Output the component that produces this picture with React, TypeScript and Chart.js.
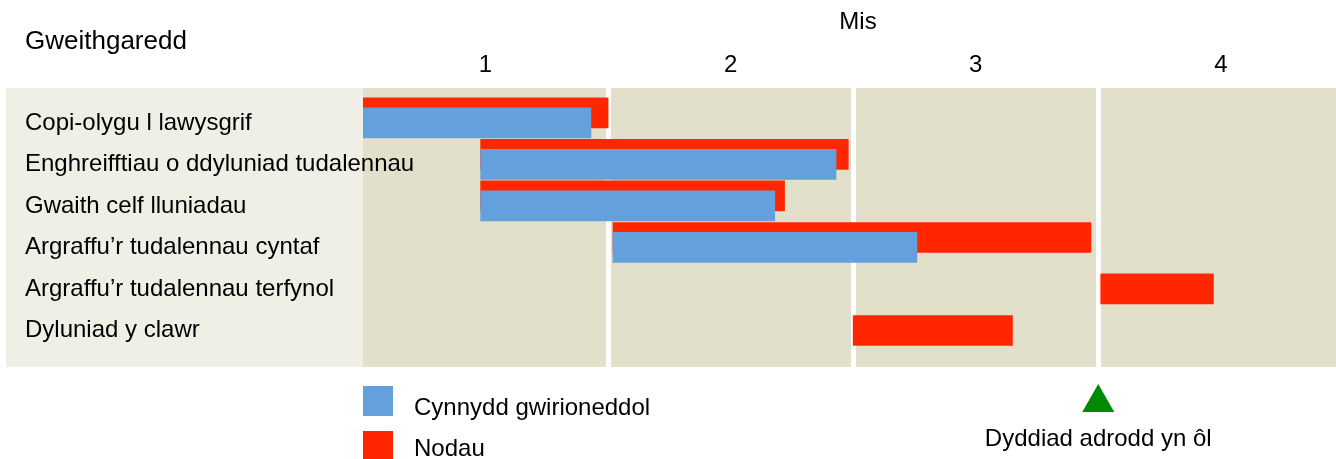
import React, { useEffect, useRef } from 'react';
import { Chart, registerables } from 'chart.js';

Chart.register(...registerables);

// ---------- data ----------
const ACTIVITIES = [
  'Copi-olygu l lawysgrif',
  'Enghreifftiau o ddyluniad tudalennau',
  'Gwaith celf lluniadau',
  'Argraffu’r tudalennau cyntaf',
  'Argraffu’r tudalennau terfynol',
  'Dyluniad y clawr',
];
const MONTH_LABELS = ['1', '2', '3', '4'];
// targets (Nodau), in months from start
const TARGET_START = [0, 0.48, 0.48, 1.02, 3.01, 2.0];
const TARGET_END = [1.0, 1.98, 1.72, 2.97, 3.47, 2.65];
// actual progress (Cynnydd gwirioneddol)
const ACTUAL_START: (number | null)[] = [0, 0.48, 0.48, 1.02, null, null];
const ACTUAL_END: (number | null)[] = [0.93, 1.93, 1.68, 2.26, null, null];
const REPORT_DATE = 3;

const HEADER = 'Gweithgaredd';
const AXIS_TITLE = 'Mis';
const LEGEND_ACTUAL = 'Cynnydd gwirioneddol';
const LEGEND_TARGET = 'Nodau';
const REPORT_LABEL = 'Dyddiad adrodd yn ôl';

// ---------- style ----------
const FONT = '"Liberation Sans", Arial, Helvetica, sans-serif';
const BLUE = '#63a0dc';
const RED = '#ff2600';
const GREEN = '#008a00';
const PANEL = '#f0efe6';
const AREA = '#e2dfcb';
const TARGET_SHIFT = 0.24; // target bar drawn slightly above the actual bar

const actualData = ACTUAL_START.map((s, i) =>
  s === null || ACTUAL_END[i] === null ? null : { x: [s, ACTUAL_END[i] as number], y: i }
).filter((d) => d !== null);

const targetData = TARGET_START.map((s, i) => ({
  x: [s, TARGET_END[i]],
  y: ACTUAL_START[i] === null ? i : i - TARGET_SHIFT,
}));

const ganttPlugin = {
  id: 'ganttDecor',
  beforeDraw(chart: any) {
    const { ctx, chartArea: a } = chart;
    ctx.save();
    ctx.fillStyle = PANEL;
    ctx.fillRect(6, a.top, a.left - 6, a.bottom - a.top);
    ctx.fillStyle = AREA;
    ctx.fillRect(a.left, a.top, a.right - a.left, a.bottom - a.top);
    ctx.restore();
  },
  afterDraw(chart: any) {
    const { ctx, chartArea: a } = chart;
    const xs = chart.scales.x;
    ctx.save();
    ctx.fillStyle = '#000';
    ctx.textBaseline = 'alphabetic';

    ctx.font = `26px ${FONT}`;
    ctx.textAlign = 'left';
    ctx.fillText(HEADER, 25, 49);

    ctx.font = `24px ${FONT}`;
    ctx.textAlign = 'center';
    ctx.fillText(AXIS_TITLE, 858, 29);

    // legend
    const lx = a.left;
    ctx.fillStyle = BLUE;
    ctx.fillRect(lx, 386, 30, 30);
    ctx.fillStyle = RED;
    ctx.fillRect(lx, 431, 30, 30);
    ctx.fillStyle = '#000';
    ctx.textAlign = 'left';
    ctx.fillText(LEGEND_ACTUAL, lx + 51, 415);
    ctx.fillText(LEGEND_TARGET, lx + 51, 456);

    // report date marker
    const rx = xs.getPixelForValue(REPORT_DATE);
    ctx.fillStyle = GREEN;
    ctx.beginPath();
    ctx.moveTo(rx, 384);
    ctx.lineTo(rx + 16, 412);
    ctx.lineTo(rx - 16, 412);
    ctx.closePath();
    ctx.fill();
    ctx.fillStyle = '#000';
    ctx.textAlign = 'center';
    ctx.fillText(REPORT_LABEL, rx, 446);
    ctx.restore();
  },
};

export default function App() {
  const ref = useRef<HTMLCanvasElement>(null);
  useEffect(() => {
    const canvas = ref.current;
    if (!canvas) return;
    Chart.defaults.font.family = FONT;
    Chart.defaults.color = '#000';
    const chart = new Chart(canvas, {
      type: 'bar',
      data: {
        datasets: [
          { label: LEGEND_ACTUAL, data: actualData as any, backgroundColor: BLUE, borderWidth: 0, xAxisID: 'x', yAxisID: 'y' },
          { label: LEGEND_TARGET, data: targetData as any, backgroundColor: RED, borderWidth: 0, xAxisID: 'x', yAxisID: 'y' },
        ],
      },
      options: {
        indexAxis: 'y',
        animation: false,
        responsive: true,
        maintainAspectRatio: false,
        layout: { padding: { left: 25, top: 0, right: 0, bottom: 92 } },
        datasets: { bar: { grouped: false, barThickness: 30 } } as any,
        plugins: {
          legend: { display: false },
          tooltip: { enabled: false },
          title: { display: false },
        },
        scales: {
          x: {
            type: 'linear',
            position: 'top',
            offset: false,
            min: 0,
            max: 3.97,
            grid: { display: false, drawTicks: false },
            border: { display: false },
            ticks: {
              autoSkip: false,
              maxRotation: 0,
              padding: 8,
              font: { size: 24 },
              color: '#000',
              callback: (_v: any, i: number) => MONTH_LABELS[i],
            },
            afterBuildTicks: (s: any) => {
              s.ticks = MONTH_LABELS.map((_, i) => ({ value: i + 0.5 }));
            },
            afterFit: (s: any) => {
              s.height = 88;
            },
          },
          xGrid: {
            type: 'linear',
            position: 'top',
            offset: false,
            min: 0,
            max: 3.97,
            grid: { color: '#ffffff', lineWidth: 5, drawTicks: false },
            border: { display: false },
            ticks: { display: false },
            afterBuildTicks: (s: any) => {
              s.ticks = MONTH_LABELS.slice(1).map((_, i) => ({ value: i + 1 }));
            },
            afterFit: (s: any) => {
              s.height = 0;
            },
          },
          y: {
            type: 'linear',
            position: 'left',
            offset: false,
            reverse: true,
            min: -0.84,
            max: 5.88,
            grid: { display: false, drawTicks: false },
            border: { display: false },
            ticks: {
              autoSkip: false,
              mirror: true,
              crossAlign: 'near',
              padding: -338,
              font: { size: 24 },
              color: '#000',
              callback: (_v: any, i: number) => ACTIVITIES[i],
            },
            afterBuildTicks: (s: any) => {
              s.ticks = ACTIVITIES.map((_, i) => ({ value: i }));
            },
            afterFit: (s: any) => {
              s.width = 338;
            },
          },
        } as any,
      },
      plugins: [ganttPlugin],
    });
    return () => chart.destroy();
  }, []);
  return (
    <div style={{ position: 'fixed', left: 0, top: 0, width: 1336, height: 459 }}>
      <canvas ref={ref} />
    </div>
  );
}
